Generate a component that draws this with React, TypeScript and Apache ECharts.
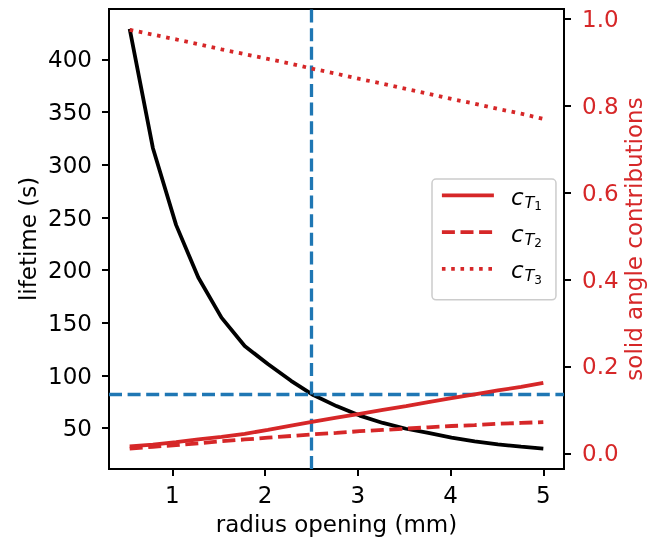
import React, { useEffect, useRef } from 'react';
import * as echarts from 'echarts';

// radius opening (mm)
const radius = [0.54, 0.79, 1.04, 1.28, 1.53, 1.78, 2.03, 2.28, 2.52, 2.77, 3.02, 3.27, 3.52, 3.76, 4.01, 4.26, 4.51, 4.76, 5.0];
// lifetime (s)
const lifetime = [429, 316, 243, 193, 155, 128, 111, 95, 81.5, 71, 62, 55, 49.5, 45.5, 41, 37.5, 34.7, 32.5, 30.7];
// solid angle contributions
const cT1 = [0.016, 0.02, 0.026, 0.032, 0.038, 0.045, 0.054, 0.064, 0.073, 0.082, 0.091, 0.1, 0.109, 0.118, 0.127, 0.136, 0.145, 0.153, 0.162];
const cT2 = [0.011, 0.015, 0.019, 0.023, 0.028, 0.032, 0.036, 0.04, 0.044, 0.047, 0.051, 0.054, 0.057, 0.06, 0.063, 0.065, 0.068, 0.07, 0.072];
const cT3 = [0.975, 0.964, 0.953, 0.942, 0.93, 0.919, 0.908, 0.897, 0.885, 0.874, 0.862, 0.851, 0.839, 0.828, 0.816, 0.805, 0.793, 0.782, 0.77];

const xTicks = [1, 2, 3, 4, 5];
const leftTicks = [50, 100, 150, 200, 250, 300, 350, 400];
const rightTicks = [0, 0.2, 0.4, 0.6, 0.8, 1.0];

const crossRadius = 2.5;
const crossLifetime = 82;

const seriesNames = ['cT1', 'cT2', 'cT3'];
const seriesSubs = ['1', '2', '3'];

const FONT = 'DejaVu Sans';
const FS = 23;
const RED = '#d62728';
const BLUE = '#1f77b4';

export default function App() {
  const ref = useRef<HTMLDivElement>(null);
  useEffect(() => {
    const chart = echarts.init(ref.current!, null, { renderer: 'svg' });
    const pairs = (ys: number[]) => radius.map((x, i) => [x, ys[i]]);
    const dashed = [13, 5.6];
    const dotted = [3.6, 5.7];
    const LW = 3.8;
    chart.setOption({
      animation: false,
      textStyle: { fontFamily: FONT },
      grid: {
        left: 109, right: 87, top: 9, bottom: 78,
        containLabel: false,
        outerBoundsMode: 'none',
        show: true, borderColor: '#000', borderWidth: 2, backgroundColor: 'transparent',
      },
      legend: {
        orient: 'vertical',
        left: 432,
        top: 179,
        data: seriesNames,
        itemWidth: 52,
        itemHeight: 36,
        itemGap: 5.3,
        padding: [2, 14, 14, 8],
        backgroundColor: '#fff',
        borderColor: '#cccccc',
        borderWidth: 1.5,
        borderRadius: 4,
        itemStyle: { opacity: 0 },
        lineStyle: { width: LW },
        formatter: (name: string) => {
          const i = seriesNames.indexOf(name);
          return '{c|c}{t|T}{n|' + seriesSubs[i] + '}';
        },
        textStyle: {
          color: '#000',
          rich: {
            c: { fontFamily: FONT, fontStyle: 'italic', fontSize: 23, lineHeight: 22, verticalAlign: 'top', padding: [1, 0, 0, 12], color: '#000' },
            t: { fontFamily: FONT, fontStyle: 'italic', fontSize: 16, lineHeight: 15, verticalAlign: 'top', padding: [10, 0, 0, 1], color: '#000' },
            n: { fontFamily: FONT, fontSize: 12, lineHeight: 11, verticalAlign: 'top', padding: [16, 0, 0, 0], color: '#000' },
          },
        },
      },
      xAxis: {
        type: 'value',
        min: 0.317,
        max: 5.223,
        name: 'radius opening (mm)',
        nameLocation: 'middle',
        nameGap: 43,
        nameMoveOverlap: false,
        nameTextStyle: { fontSize: FS, color: '#000', fontFamily: FONT },
        axisLine: { show: true, onZero: false, lineStyle: { color: '#000', width: 2 } },
        axisTick: { show: true, length: 7, lineStyle: { color: '#000', width: 2 }, customValues: xTicks },
        axisLabel: { customValues: xTicks, fontSize: FS, color: '#000', margin: 14, fontFamily: FONT },
        splitLine: { show: false },
      },
      yAxis: [
        {
          type: 'value',
          position: 'left',
          min: 11.3,
          max: 447.9,
          name: 'lifetime (s)',
          nameLocation: 'middle',
          nameRotate: 90,
          nameGap: 70,
          nameMoveOverlap: false,
          nameTextStyle: { fontSize: FS, color: '#000', fontFamily: FONT },
          axisLine: { show: true, onZero: false, lineStyle: { color: '#000', width: 2 } },
          axisTick: { show: true, length: 7, lineStyle: { color: '#000', width: 2 }, customValues: leftTicks },
          axisLabel: { customValues: leftTicks, fontSize: FS, color: '#000', margin: 17, fontFamily: FONT },
          splitLine: { show: false },
        },
        {
          type: 'value',
          position: 'right',
          min: -0.036,
          max: 1.023,
          name: 'solid angle contributions',
          nameLocation: 'middle',
          nameRotate: 90,
          nameGap: 58,
          nameMoveOverlap: false,
          nameTextStyle: { fontSize: FS, color: RED, fontFamily: FONT },
          axisLine: { show: true, onZero: false, lineStyle: { color: '#000', width: 2 } },
          axisTick: { show: true, length: 7, lineStyle: { color: '#000', width: 2 }, customValues: rightTicks },
          axisLabel: { customValues: rightTicks, fontSize: FS, color: RED, margin: 18, fontFamily: FONT, formatter: (v: number) => v.toFixed(1) },
          splitLine: { show: false },
        },
      ],
      series: [
        {
          name: 'lifetime',
          type: 'line',
          yAxisIndex: 0,
          data: pairs(lifetime),
          symbol: 'none',
          z: 2,
          lineStyle: { color: '#000', width: LW },
          itemStyle: { color: '#000' },
          markLine: {
            silent: true,
            symbol: 'none',
            label: { show: false },
            lineStyle: { color: BLUE, width: 3.3, type: dashed },
            data: [{ xAxis: crossRadius }, { yAxis: crossLifetime }],
            z: 3,
          },
        },
        {
          name: seriesNames[0],
          type: 'line',
          yAxisIndex: 1,
          data: pairs(cT1),
          symbol: 'none',
          z: 4,
          lineStyle: { color: RED, width: LW, type: 'solid' },
          itemStyle: { color: RED },
        },
        {
          name: seriesNames[1],
          type: 'line',
          yAxisIndex: 1,
          data: pairs(cT2),
          symbol: 'none',
          z: 4,
          lineStyle: { color: RED, width: LW, type: dashed },
          itemStyle: { color: RED },
        },
        {
          name: seriesNames[2],
          type: 'line',
          yAxisIndex: 1,
          data: pairs(cT3),
          symbol: 'none',
          z: 4,
          lineStyle: { color: RED, width: LW, type: dotted },
          itemStyle: { color: RED },
        },
      ],
    });
    return () => chart.dispose();
  }, []);
  return <div ref={ref} style={{ position: 'fixed', left: 0, top: 0, width: 651, height: 547 }} />;
}
